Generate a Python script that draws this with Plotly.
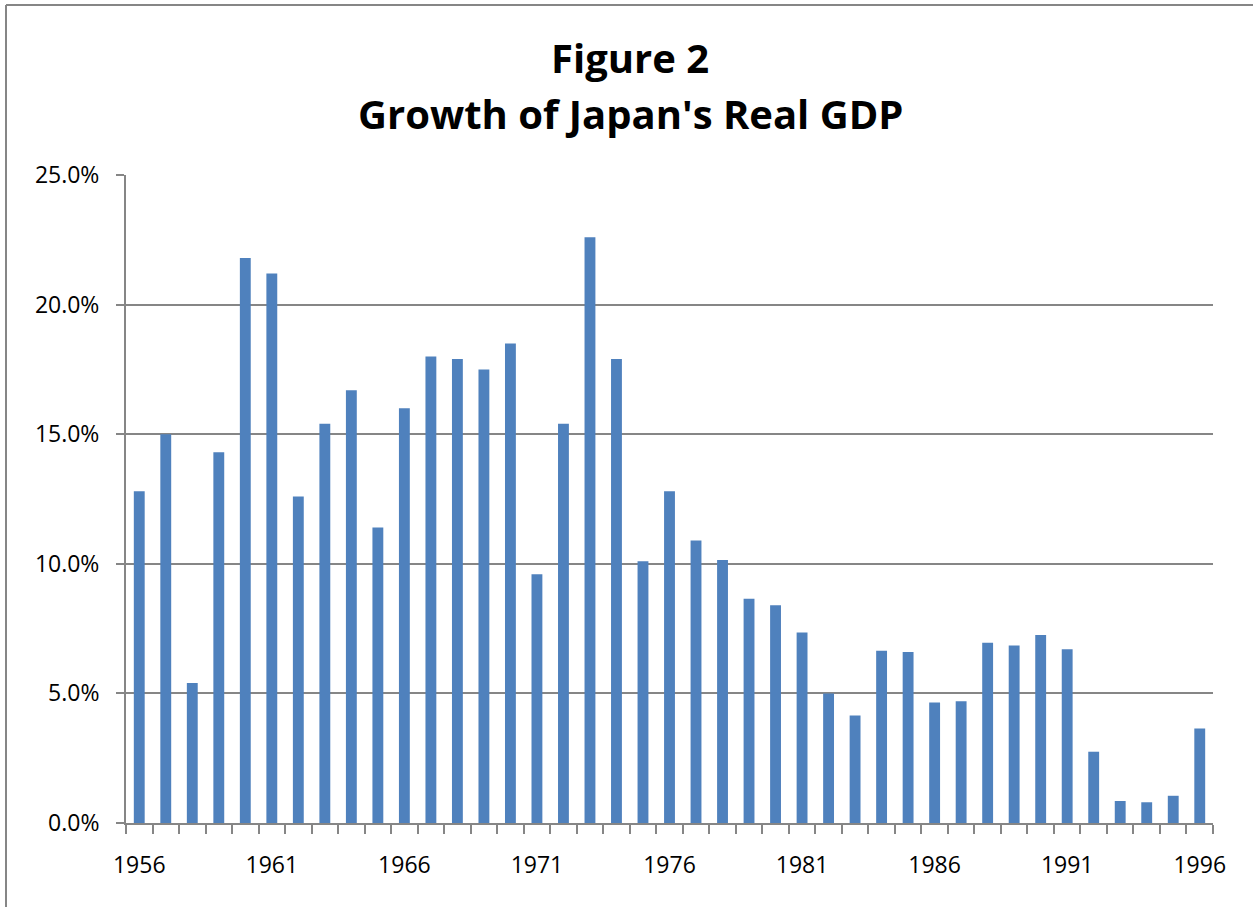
import plotly.graph_objects as go

years = list(range(1956, 1997))
growth = [12.8, 15.0, 5.4, 14.3, 21.8, 21.2, 12.6, 15.4, 16.7, 11.4,
          16.0, 18.0, 17.9, 17.5, 18.5, 9.6, 15.4, 22.6, 17.9, 10.1,
          12.8, 10.9, 10.15, 8.65, 8.4, 7.35, 5.0, 4.15, 6.65, 6.6,
          4.65, 4.7, 6.95, 6.85, 7.25, 6.7, 2.75, 0.85, 0.8, 1.05, 3.65]
label_years = [1956, 1961, 1966, 1971, 1976, 1981, 1986, 1991, 1996]
y_ticks = [0, 5, 10, 15, 20, 25]

W, H = 1253, 907
L, R, T, B = 126, 40, 175, 84
pw, ph = W - L - R, H - T - B

grey = "#868686"
font = "Open Sans"

fig = go.Figure(go.Bar(x=years, y=growth, marker=dict(color="#4F81BD", line=dict(width=0)), width=0.41))

fig.update_layout(
    width=W, height=H,
    margin=dict(l=L, r=R, t=T, b=B, autoexpand=False),
    plot_bgcolor="white", paper_bgcolor="white",
    showlegend=False,
    font=dict(family=font, size=23, color="black"),
    xaxis=dict(
        range=[1955.5, 1996.5],
        tickmode="array", tickvals=label_years, ticktext=[str(y) for y in label_years],
        ticks="", showgrid=False, showline=True, linecolor=grey, linewidth=2,
        ticklabelstandoff=20,
        minor=dict(ticks="outside", ticklen=9, tickwidth=2, tickcolor=grey, tick0=1955.5, dtick=1, showgrid=False),
        zeroline=False,
    ),
    yaxis=dict(
        range=[0, 25], tickmode="array", tickvals=y_ticks,
        ticktext=[f"{v:.1f}%" for v in y_ticks],
        ticks="outside", ticklen=8, tickwidth=2, tickcolor=grey,
        showgrid=True, gridcolor=grey, gridwidth=1.5,
        showline=True, linecolor=grey, linewidth=2, zeroline=False,
        ticklabelstandoff=12,
    ),
    annotations=[
        dict(text="<b>Figure 2</b>", x=(630 - L) / pw, y=1 + (T - 58) / ph, xref="paper", yref="paper",
             showarrow=False, xanchor="center", yanchor="middle", font=dict(size=40, family=font)),
        dict(text="<b>Growth of Japan's Real GDP</b>", x=(630 - L) / pw, y=1 + (T - 114) / ph,
             xref="paper", yref="paper", showarrow=False, xanchor="center", yanchor="middle",
             font=dict(size=40, family=font)),
    ],
    shapes=[
        dict(type="line", xref="paper", yref="paper", x0=(6 - L) / pw, x1=(6 - L) / pw,
             y0=1 + (T - 5) / ph, y1=-(B + 10) / ph, line=dict(color=grey, width=2)),
        dict(type="line", xref="paper", yref="paper", x0=(6 - L) / pw, x1=1 + (R + 10) / pw,
             y0=1 + (T - 5) / ph, y1=1 + (T - 5) / ph, line=dict(color=grey, width=2)),
    ],
)

fig.write_html("out.html", config={"displayModeBar": False},
               post_script="document.body.style.margin='0';document.body.style.overflow='hidden';")
